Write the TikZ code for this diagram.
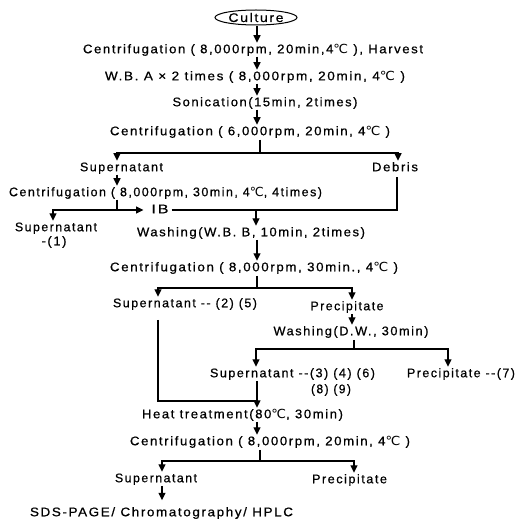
\documentclass[tikz,border=0pt]{standalone}
\usepackage{fontspec}
\usepackage{graphicx}
\setmainfont{Liberation Sans}[LetterSpace=12,FakeBold=0.6]
\newfontfamily\dvf{DejaVu Sans}
\usetikzlibrary{arrows.meta,shapes.geometric}
\newcommand\degC{{\dvf ℃}}
\newcommand\dd{-{}-}
\newcommand\fw[2]{\resizebox{#1pt}{\height}{#2}}
\tikzset{
  txt/.style={inner sep=0pt, outer sep=0pt, text height=9pt, text depth=2.5pt, font=\fontsize{12.5}{14}\selectfont},
  ln/.style={line width=1.2pt},
  arr/.style={ln, -{Triangle[width=7pt,length=7.5pt]}, shorten >=1.5pt},
}
\begin{document}
\begin{tikzpicture}[x=1pt,y=-1pt]
\fill[white] (0,0) rectangle (516,521);
\useasboundingbox (0,0) rectangle (516,521);
% columns
\coordinate (k53) at (53,0);
\coordinate (k117) at (117,0);
\coordinate (k158) at (158,0);
\coordinate (k162) at (162,0);
\coordinate (k256) at (256,0);
\coordinate (k257) at (257,0);
\coordinate (k352) at (352,0);
\coordinate (k354) at (354,0);
\coordinate (k397) at (397,0);
\coordinate (k398) at (398,0);
\coordinate (k448) at (448,0);
% nodes
\node[draw, ellipse, line width=1pt, minimum width=82pt, minimum height=15pt, inner sep=0pt, font=\fontsize{12.5}{14}\selectfont] (cul) at (256,17.5) {\fw{55}{Culture}};
\node[txt] (h1) at (253,50) {\fw{340}{Centrifugation ( 8,000rpm, 20min,4\degC\ ), Harvest}};
\node[txt] (h2) at (255,77) {\fw{300}{W.B. A × 2 times ( 8,000rpm, 20min, 4\degC\ )}};
\node[txt] (h3) at (265,103) {\fw{185}{Sonication(15min, 2times)}};
\node[txt] (h4) at (250,132) {\fw{280}{Centrifugation ( 6,000rpm, 20min, 4\degC\ )}};
\node[txt] (s1) at (121.5,168) {\fw{83}{Supernatant}};
\node[txt] (deb) at (395,168) {\fw{46}{Debris}};
\node[txt] (c2) at (165.5,193) {\fw{313}{Centrifugation ( 8,000rpm, 30min, 4\degC, 4times)}};
\node[txt] (ib) at (160,210) {\fw{17}{IB}};
\node[txt] (s2) at (56,228) {\fw{82}{Supernatant}};
\node[txt] (s2b) at (54,242) {\fw{25}{-(1)}};
\node[txt] (w1) at (251,233) {\fw{228}{Washing(W.B. B, 10min, 2times)}};
\node[txt] (c3) at (254,268) {\fw{288}{Centrifugation ( 8,000rpm, 30min., 4\degC\ )}};
\node[txt] (s3) at (185,304) {\fw{144}{Supernatant \dd\ (2) (5)}};
\node[txt] (p1) at (347,307) {\fw{73}{Precipitate}};
\node[txt] (w2) at (351,332) {\fw{155}{Washing(D.W., 30min)}};
\node[txt] (s4) at (292.5,374) {\fw{165}{Supernatant \dd(3) (4) (6)}};
\node[txt] (s4b) at (331,390) {\fw{40}{(8) (9)}};
\node[txt] (p2) at (461,374) {\fw{108}{Precipitate \dd(7)}};
\node[txt] (ht) at (242.5,415) {\fw{201}{Heat treatment(80\degC, 30min)}};
\node[txt] (c4) at (270,442) {\fw{280}{Centrifugation ( 8,000rpm, 20min, 4\degC\ )}};
\node[txt] (s5) at (156,479) {\fw{82}{Supernatant}};
\node[txt] (p3) at (349.5,480) {\fw{75}{Precipitate}};
\node[txt] (sds) at (161.5,513) {\fw{263}{SDS-PAGE/ Chromatography/ HPLC}};
% junctions
\coordinate (j1) at (260,153);
\coordinate (j2) at (117,210);
\coordinate (j3) at (256,210);
\coordinate (j4) at (257,288);
\coordinate (j5) at (354,349);
\coordinate (j6) at (257,401);
\coordinate (j7) at (260,461);
% connectors
\draw[arr, shorten <=1pt] (cul.south -| k257) -- (h1.north -| k257);
\draw[arr, shorten <=1pt] (h1.south -| k257) -- (h2.north -| k257);
\draw[arr, shorten <=1pt] (h2.south -| k257) -- (h3.north -| k257);
\draw[arr, shorten <=1pt] (h3.south -| k257) -- (h4.north -| k257);
\draw[ln, shorten <=2pt] (h4.south -| j1) -- (j1);
\draw[arr] (j1) -| (s1.north -| k117);
\draw[arr] (j1) -| (deb.north -| k398);
\draw[arr, shorten <=1pt] (s1.south -| k117) -- (c2.north -| k117);
\draw[ln, shorten <=1pt] (c2.south -| k117) -- (j2);
\draw[arr] (j2) -| (s2.north -| k53);
\draw[arr, shorten >=8pt] (j2) -- (ib.west);
\draw[ln, shorten <=3pt, shorten >=3pt] (ib.east) -- (ib.east -| k397) -- (deb.south -| k397);
\draw[arr] (j3) -- (w1.north -| j3);
\draw[arr, shorten <=1pt] (w1.south -| k257) -- (c3.north -| k257);
\draw[ln, shorten <=2pt] (c3.south -| j4) -- (j4);
\draw[arr] (j4) -| (s3.north -| k158);
\draw[arr] (j4) -| (p1.north -| k352);
\draw[ln, shorten <=10pt] (s3.south -| k158) -- (k158 |- j6) -- (j6);
\draw[arr, shorten <=1pt] (p1.south -| k352) -- (w2.north -| k352);
\draw[ln, shorten <=2pt] (w2.south -| j5) -- (j5);
\draw[arr] (j5) -| (s4.north -| k256);
\draw[arr] (j5) -| (p2.north -| k448);
\draw[arr, shorten <=1pt] (s4.south -| k257) -- (ht.north -| k257);
\draw[arr, shorten <=1pt] (ht.south -| k257) -- (c4.north -| k257);
\draw[ln, shorten <=2pt] (c4.south -| j7) -- (j7);
\draw[arr] (j7) -| (s5.north -| k162);
\draw[arr] (j7) -| (p3.north -| k354);
\draw[arr, shorten <=1pt, shorten >=7pt] (s5.south -| k162) -- (sds.north -| k162);
\end{tikzpicture}
\end{document}
